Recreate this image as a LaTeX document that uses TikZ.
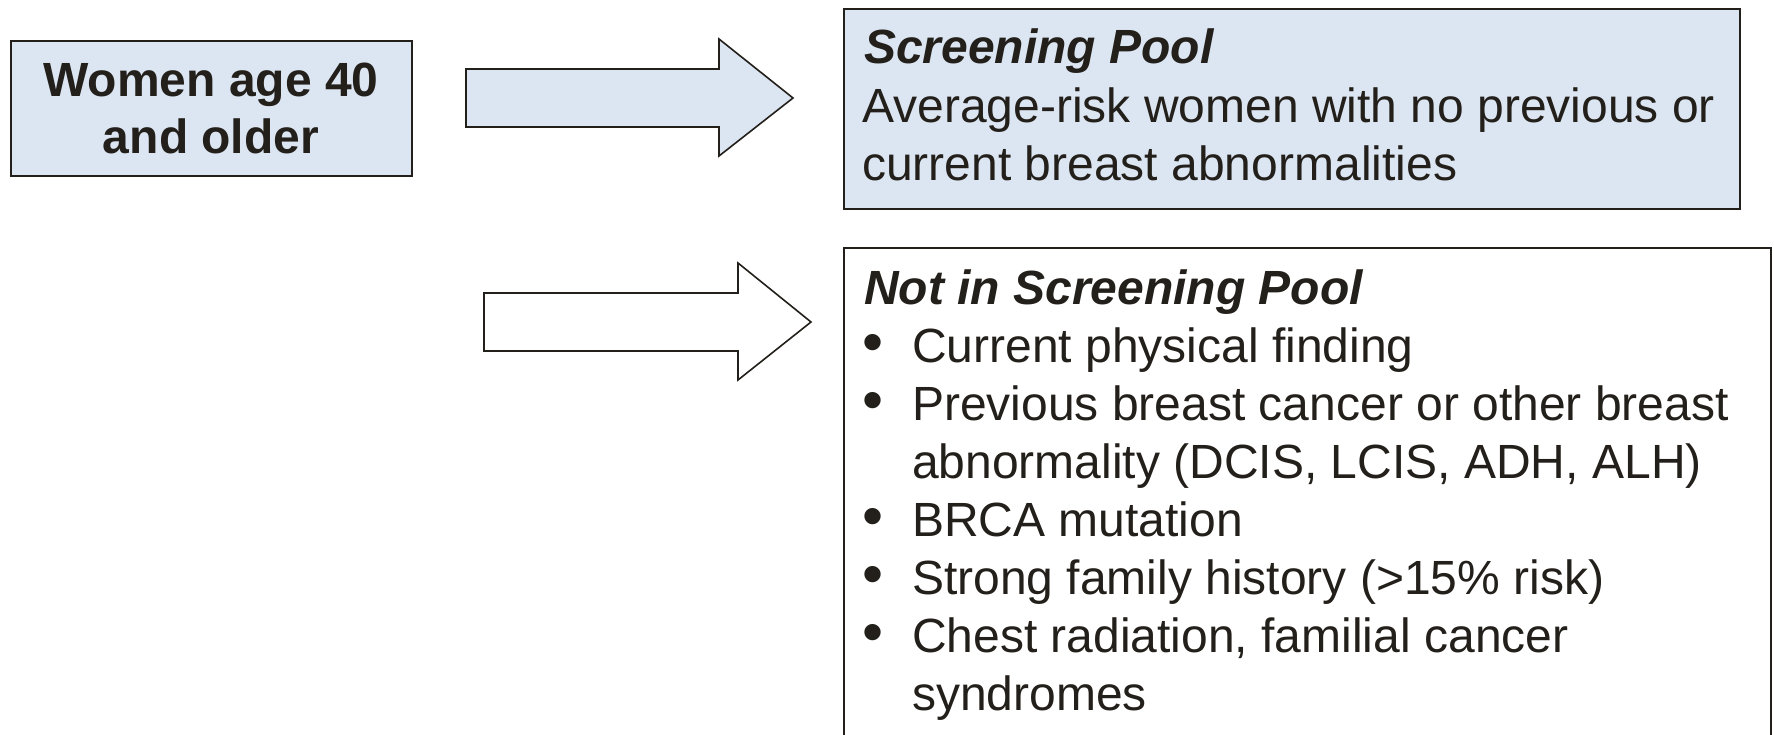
\documentclass[tikz,border=0pt]{standalone}
\usepackage{fontspec}
\setmainfont{Liberation Sans}
\definecolor{ink}{HTML}{231F1A}
\definecolor{paleblue}{HTML}{DCE6F2}
\tikzset{
  box/.style={draw=ink, line width=2pt, anchor=north west, inner sep=0pt},
  blockarrow/.style={draw=ink, line width=1.6pt, line join=miter},
  txt/.style={anchor=base west, inner sep=0pt, text=ink, font=\fontsize{48}{57}\selectfont},
  bul/.style={anchor=base west, inner sep=0pt, text=ink, font=\fontsize{60}{57}\selectfont},
  ctxt/.style={anchor=base, inner sep=0pt, text=ink, font=\fontsize{48}{57}\selectfont\bfseries},
}
\begin{document}
\begin{tikzpicture}[x=1pt,y=-1pt]
\useasboundingbox (0,0) rectangle (1774,735);
% boxes
\node[box, fill=paleblue, minimum width=401pt, minimum height=135pt] (women) at (10,40) {};
\node[box, fill=paleblue, minimum width=896pt, minimum height=200pt] (pool) at (843,8) {};
\node[box, fill=white, minimum width=927pt, minimum height=520pt] (notpool) at (843,247) {};
% block arrows
\coordinate (a1) at (466,69);
\coordinate (a2) at (484,293);
\draw[blockarrow, fill=paleblue] (a1) -- ++(253,0) -- ++(0,-30) -- ++(74,59) -- ++(-74,58) -- ++(0,-29) -- ++(-253,0) -- cycle;
\draw[blockarrow, fill=white] (a2) -- ++(254,0) -- ++(0,-30) -- ++(73,59) -- ++(-73,58) -- ++(0,-29) -- ++(-254,0) -- cycle;
% box 1 text
\node[ctxt] (w1) at (211,97) {Women age 40};
\node[ctxt] (w2) at (211,154) {and older};
% box 2 text
\node[txt, font=\fontsize{48}{57}\selectfont\bfseries\itshape] (p0) at (864,64) {Screening Pool};
\node[txt] (p1) at (862,123) {Average-risk women with no previous or};
\node[txt] (p2) at (862,181) {current breast abnormalities};
% box 3 text
\node[txt, font=\fontsize{48}{57}\selectfont\bfseries\itshape] (n0) at (864,304) {Not in Screening Pool};
\foreach \i/\t/\b in {1/Current physical finding/1,
                      2/Previous breast cancer or other breast/1,
                      3/{abnormality (DCIS, LCIS, ADH, ALH)}/0,
                      4/BRCA mutation/1,
                      5/Strong family history (>15\% risk)/1,
                      6/{Chest radiation, familial cancer}/1,
                      7/syndromes/0} {
  \node[txt] (n\i) at (912,{304+58.1*\i}) {\t};
  \ifnum\b=1
    \node[bul] (b\i) at (862,{304+58.1*\i}) {•};
  \fi
}
\end{tikzpicture}
\end{document}
